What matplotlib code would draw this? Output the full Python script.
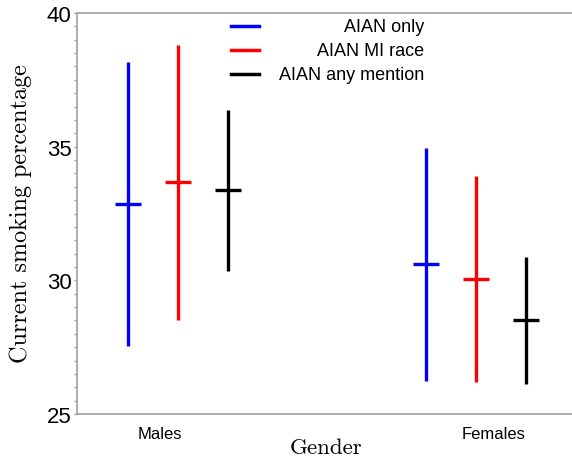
import matplotlib
matplotlib.use('Agg')
import matplotlib.pyplot as plt
import numpy as np

# ---- data ----
groups = ['Males', 'Females']
series = ['AIAN only', 'AIAN MI race', 'AIAN any mention']
colors = ['#0000ff', '#ff0000', '#000000']

est_only = [32.85, 30.60]
est_mi = [33.67, 30.06]
est_any = [33.38, 28.51]

low_only = [27.55, 26.22]
low_mi = [28.50, 26.19]
low_any = [30.35, 26.12]

up_only = [38.16, 34.96]
up_mi = [38.82, 33.89]
up_any = [36.38, 30.88]

yticks = [25, 30, 35, 40]

estimates = [est_only, est_mi, est_any]
lowers = [low_only, low_mi, low_any]
uppers = [up_only, up_mi, up_any]

# ---- figure ----
W, H = 572, 464
fig = plt.figure(figsize=(W / 100, H / 100), dpi=100)
ax = fig.add_axes([77 / W, 49 / H, 495 / W, 401 / H])

x = np.arange(len(groups))
offsets = [-0.1675, 0.0, 0.1675]
for i, (name, col) in enumerate(zip(series, colors)):
    xs = x + offsets[i]
    ax.vlines(xs, lowers[i], uppers[i], color=col, lw=2.4)
    ax.plot(xs, estimates[i], ls='none', marker='_', ms=19, mew=2.4, color=col)

ax.set_xlim(-0.3367, 1.3216)
ax.set_ylim(25, 40)

spine_col = '#a8a8a8'
for s in ['left', 'top', 'bottom']:
    ax.spines[s].set_color(spine_col)
    ax.spines[s].set_linewidth(1.3)
ax.spines['right'].set_visible(False)

ax.set_yticks(yticks)
ax.set_yticklabels([str(t) for t in yticks], fontfamily='Liberation Sans', fontsize=16)
ax.yaxis.set_minor_locator(matplotlib.ticker.MultipleLocator(0.5))
ax.tick_params(axis='y', which='major', length=2.5, width=1, color='#999999', pad=1.5)
ax.tick_params(axis='y', which='minor', length=2.0, width=0.9, color='#999999')

label_shift = [-0.06, 0.06]
ax.set_xticks(x + np.array(label_shift))
ax.set_xticklabels(groups, fontfamily='Liberation Sans', fontsize=12)
ax.tick_params(axis='x', length=0, pad=8.5)

fig.text(21 / W, 1 - 214 / H, 'Current smoking percentage', rotation=90,
         ha='center', va='center', fontfamily='cmr10', fontsize=17.4)
fig.text(326 / W, 10 / H, 'Gender', ha='center', va='baseline',
         fontfamily='cmr10', fontsize=16.5)

# legend (manual, right-aligned text)
row_y = [27, 51, 75]
for name, col, py in zip(series, colors, row_y):
    ya = (415 - py) / 401
    ax.plot([(231 - 77) / 495, (259 - 77) / 495], [ya, ya], color=col, lw=2.5,
            transform=ax.transAxes, clip_on=False)
    ax.text((424 - 77) / 495, ya, name, ha='right', va='center',
            fontfamily='Liberation Sans', fontsize=13, transform=ax.transAxes)

fig.savefig('out.png', dpi=100)
